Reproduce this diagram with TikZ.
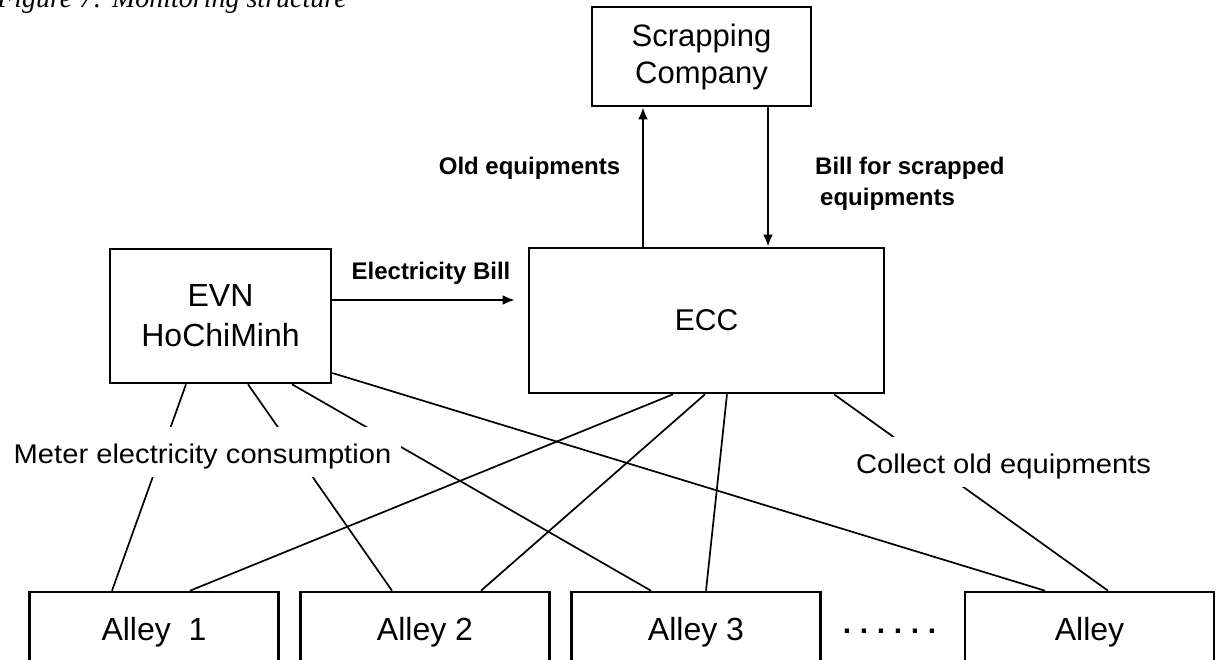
\documentclass[tikz,border=0pt]{standalone}
\usepackage{fontspec}
\setmainfont{Liberation Sans}
\newfontfamily\capfont{Liberation Serif}
\usepackage{graphicx}
\usetikzlibrary{arrows.meta}
\begin{document}
\begin{tikzpicture}[x=1pt,y=-1pt,
  box/.style={draw, line width=2.6pt, inner sep=0pt, align=center},
  conn/.style={line width=1.7pt},
  arr/.style={line width=2.6pt, -{Latex[length=12pt,width=10pt]}},
  blbl/.style={inner sep=0pt, font=\bfseries\fontsize{24}{29}\selectfont},
  rlbl/.style={fill=white, inner ysep=0pt, inner xsep=10pt, text height=36pt, text depth=14pt, font=\fontsize{27}{32}\selectfont},
  alley/.style={box, minimum width=249pt, minimum height=80pt, font=\fontsize{32}{38}\selectfont}
]
\useasboundingbox (0,0) rectangle (1216,660);
% caption (cut by the page top)
\node[anchor=base west, inner sep=0pt, font=\capfont\itshape\fontsize{28}{34}\selectfont] (cap) at (-3,8) {Figure 7: Monitoring structure};
% boxes
\node[box, minimum width=219pt, minimum height=99pt, font=\fontsize{31}{37}\selectfont] (scrap) at (701.5,56.5) {Scrapping\\Company};
\node[box, minimum width=221pt, minimum height=134pt, font=\fontsize{32}{40}\selectfont] (evn) at (220.5,316) {EVN\\HoChiMinh};
\node[box, minimum width=355pt, minimum height=145pt, font=\fontsize{30}{36}\selectfont] (ecc) at (706.5,320.5) {ECC};
\node[alley] (a1) at (154,632) {Alley\ \ 1};
\node[alley] (a2) at (425,632) {Alley 2};
\node[alley] (a3) at (696,632) {Alley 3};
\node[alley] (a4) at (1089.5,632) {Alley};
\node[inner sep=0pt, font=\bfseries\fontsize{30}{36}\selectfont] (dots) at (889.5,631) {.\kern8.7pt.\kern8.7pt.\kern8.7pt.\kern8.7pt.\kern8.7pt.};
% arrows
\draw[arr] ([xshift=-63.5pt]ecc.north) -- ([xshift=-58.5pt]scrap.south);
\draw[arr] ([xshift=66.5pt]scrap.south) -- ([xshift=61.5pt]ecc.north);
\draw[arr, shorten >=13pt] ([yshift=16pt]evn.east) -- ([yshift=20.5pt]ecc.west);
% connectors from EVN
\draw[conn] ([xshift=-34.5pt]evn.south) -- ([xshift=-42pt]a1.north);
\draw[conn] ([xshift=27.5pt]evn.south) -- ([xshift=-33pt]a2.north);
\draw[conn] ([xshift=71.5pt]evn.south) -- ([xshift=-45pt]a3.north);
\draw[conn] ([yshift=-57pt]evn.east) -- ([xshift=-44.5pt]a4.north);
% connectors from ECC
\draw[conn] ([xshift=-33.5pt]ecc.south) -- ([xshift=36pt]a1.north);
\draw[conn] ([xshift=-1.5pt]ecc.south) -- ([xshift=56pt]a2.north);
\draw[conn] ([xshift=20.5pt]ecc.south) -- ([xshift=10pt]a3.north);
\draw[conn] ([xshift=127.5pt]ecc.south) -- ([xshift=18.5pt]a4.north);
% labels
\node[blbl, anchor=base] (oldeq) at (529.5,175) {Old equipments};
\node[blbl, anchor=base west] (bill1) at (815,175) {Bill for scrapped};
\node[blbl, anchor=base west] (bill2) at (820,206) {equipments};
\node[blbl, anchor=base] (elbill) at (431,280) {Electricity Bill};
\node[rlbl, anchor=base] (meter) at (202.5,463) {\scalebox{1.08}[1]{Meter electricity consumption}};
\node[rlbl, anchor=base] (collect) at (1003.5,473) {\scalebox{1.08}[1]{Collect old equipments}};
\end{tikzpicture}
\end{document}
